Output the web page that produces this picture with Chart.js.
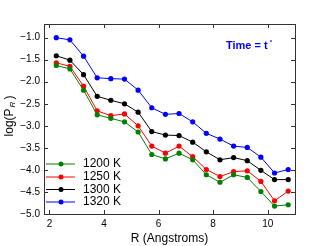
<!DOCTYPE html>
<html>
<head>
<meta charset="utf-8">
<script src="https://cdn.jsdelivr.net/npm/chart.js@4/dist/chart.umd.min.js"></script>
<style>
  html, body { margin: 0; padding: 0; background: #fff; }
  #wrap { width: 328px; height: 246px; }
</style>
</head>
<body>
<div id="wrap"><canvas id="myChart" width="328" height="246"></canvas></div>
<script>
// R values (Angstroms)
const rValues = [2.25, 2.75, 3.25, 3.75, 4.25, 4.75, 5.25, 5.75, 6.25, 6.75, 7.25, 7.75, 8.25, 8.75, 9.25, 9.75, 10.25, 10.75];

// log(P_R) per temperature
const series1200 = [-1.63, -1.71, -2.19, -2.75, -2.83, -2.91, -3.14, -3.65, -3.75, -3.62, -3.77, -4.11, -4.28, -4.11, -4.17, -4.49, -4.82, -4.79];
const series1250 = [-1.57, -1.65, -2.10, -2.66, -2.77, -2.73, -3.00, -3.46, -3.62, -3.46, -3.70, -3.99, -4.15, -4.04, -4.02, -4.26, -4.70, -4.48];
const series1300 = [-1.41, -1.51, -1.84, -2.33, -2.42, -2.50, -2.69, -3.13, -3.21, -3.22, -3.37, -3.59, -3.77, -3.72, -3.79, -4.01, -4.22, -4.22];
const series1320 = [-1.00, -1.05, -1.42, -1.91, -1.93, -1.94, -2.19, -2.59, -2.74, -2.72, -2.91, -3.17, -3.30, -3.46, -3.49, -3.71, -4.07, -3.99];

const seriesLabels = ['1200 K', '1250 K', '1300 K', '1320 K'];
const seriesColors = ['#008000', '#ff0000', '#000000', '#0000ff'];
const allSeries = [series1200, series1250, series1300, series1320];

const xTicks = [2, 4, 6, 8, 10];
const yTicks = [-1.0, -1.5, -2.0, -2.5, -3.0, -3.5, -4.0, -4.5, -5.0];

const FONT = "'Liberation Sans', Arial, sans-serif";

function toPoints(ys) {
    return ys.map((y, i) => ({x: rValues[i], y: y}));
}

// frame, inward ticks, legend and annotations
const decorPlugin = {
    id: 'decor',
    afterDraw(chart) {
        const ctx = chart.ctx;
        const a = chart.chartArea;
        const xs = chart.scales.x, ys = chart.scales.y;
        ctx.save();
        ctx.strokeStyle = '#333';
        ctx.lineWidth = 1;
        ctx.strokeRect(Math.round(a.left) + 0.5, Math.round(a.top) + 0.5,
                       Math.round(a.right - a.left), Math.round(a.bottom - a.top));
        ctx.beginPath();
        xTicks.forEach(t => {
            const px = Math.round(xs.getPixelForValue(t)) + 0.5;
            ctx.moveTo(px, a.bottom); ctx.lineTo(px, a.bottom - 4);
            ctx.moveTo(px, a.top); ctx.lineTo(px, a.top + 4);
        });
        yTicks.forEach(t => {
            const py = Math.round(ys.getPixelForValue(t)) + 0.5;
            ctx.moveTo(a.left, py); ctx.lineTo(a.left + 4, py);
            ctx.moveTo(a.right, py); ctx.lineTo(a.right - 4, py);
        });
        ctx.stroke();

        // legend
        ctx.font = '12px ' + FONT;
        ctx.textBaseline = 'middle';
        const rows = [164, 177, 189.5, 202];
        chart.data.datasets.forEach((ds, i) => {
            const y = rows[i];
            ctx.strokeStyle = ds.borderColor;
            ctx.beginPath();
            ctx.moveTo(46, y); ctx.lineTo(75, y);
            ctx.stroke();
            ctx.fillStyle = ds.borderColor;
            ctx.beginPath();
            ctx.arc(61, y, 2.5, 0, Math.PI * 2);
            ctx.fill();
            ctx.fillStyle = '#000';
            ctx.textAlign = 'left';
            ctx.fillText(ds.label, 83, y);
        });

        // time annotation
        ctx.fillStyle = '#0000ff';
        ctx.font = 'bold 11px ' + FONT;
        ctx.textAlign = 'left';
        ctx.fillText('Time = t', 226, 46);
        const w = ctx.measureText('Time = t').width;
        ctx.font = 'bold 6px ' + FONT;
        ctx.fillText('*', 226 + w + 2, 42);

        // y axis title with subscript
        ctx.translate(10, 116);
        ctx.rotate(-Math.PI / 2);
        ctx.fillStyle = '#000';
        ctx.textBaseline = 'middle';
        ctx.font = '12px ' + FONT;
        const p1 = 'log(P', p3 = ')';
        ctx.font = 'italic 8px ' + FONT;
        const wSub = ctx.measureText('R').width;
        ctx.font = '12px ' + FONT;
        const w1 = ctx.measureText(p1).width, w3 = ctx.measureText(p3).width;
        let x0 = -(w1 + wSub + 3 + w3) / 2;
        ctx.fillText(p1, x0, 0);
        ctx.font = 'italic 8px ' + FONT;
        ctx.fillText('R', x0 + w1 + 1, 3);
        ctx.font = '12px ' + FONT;
        ctx.fillText(p3, x0 + w1 + wSub + 3, 0);
        ctx.restore();
    }
};

const ctx = document.getElementById('myChart').getContext('2d');
new Chart(ctx, {
    type: 'line',
    data: {
        datasets: allSeries.map((s, i) => ({
            label: seriesLabels[i],
            data: toPoints(s),
            borderColor: seriesColors[i],
            backgroundColor: seriesColors[i],
            borderWidth: 1,
            pointRadius: 2.6,
            pointBorderWidth: 0,
            tension: 0
        }))
    },
    options: {
        responsive: false,
        animation: false,
        devicePixelRatio: 1,
        layout: { padding: { top: 24, right: 33, left: 0, bottom: 0 } },
        plugins: {
            legend: { display: false },
            tooltip: { enabled: false }
        },
        scales: {
            x: {
                type: 'linear',
                min: 1.8,
                max: 11,
                afterBuildTicks: axis => { axis.ticks = xTicks.map(v => ({value: v})); },
                afterFit: axis => { axis.height = 32; },
                grid: { display: false, drawTicks: false },
                border: { display: false },
                ticks: {
                    color: '#000',
                    font: { family: FONT, size: 10 },
                    padding: 4,
                    maxRotation: 0,
                    callback: v => String(v)
                },
                title: {
                    display: true,
                    text: 'R (Angstroms)',
                    color: '#000',
                    font: { family: FONT, size: 12 },
                    padding: { top: 0, bottom: 0 }
                }
            },
            y: {
                type: 'linear',
                min: -5.0,
                max: -0.69,
                afterBuildTicks: axis => { axis.ticks = yTicks.map(v => ({value: v})); },
                afterFit: axis => { axis.width = 44; },
                grid: { display: false, drawTicks: false },
                border: { display: false },
                ticks: {
                    color: '#000',
                    font: { family: FONT, size: 10 },
                    padding: 4,
                    callback: v => (v < 0 ? '\u2212' : '') + Math.abs(v).toFixed(1)
                }
            }
        }
    },
    plugins: [decorPlugin]
});
</script>
</body>
</html>
